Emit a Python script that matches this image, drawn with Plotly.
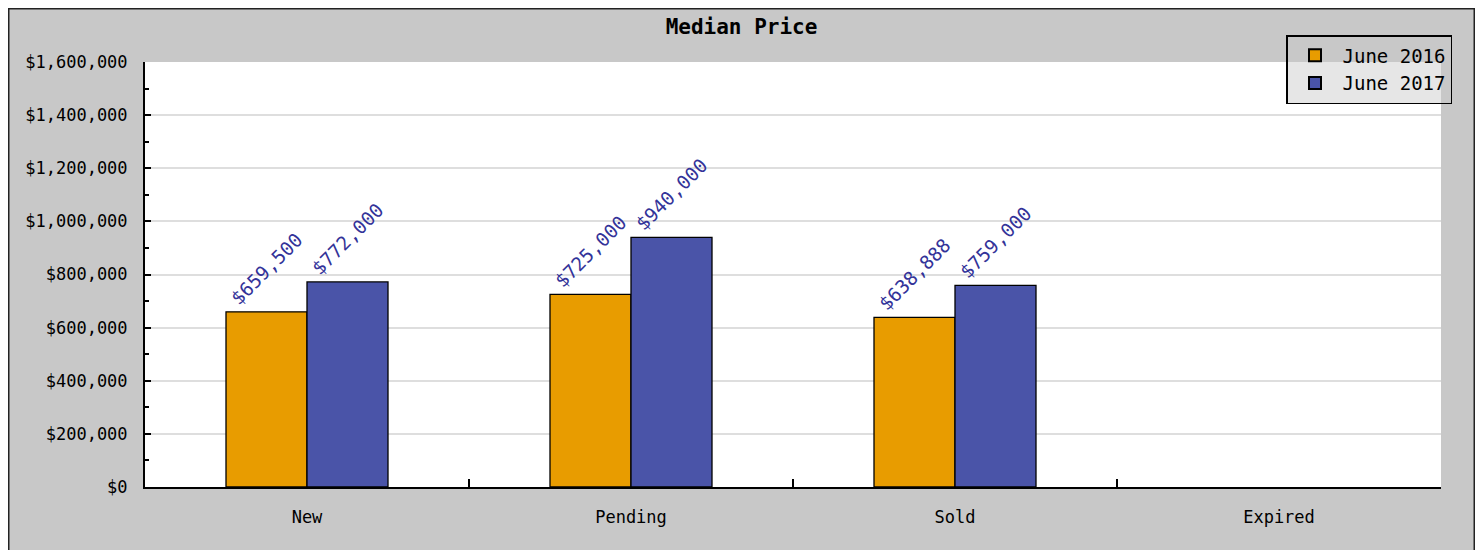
import plotly.graph_objects as go

categories = ["New", "Pending", "Sold", "Expired"]
series_names = ["June 2016", "June 2017"]
june_2016 = [659500, 725000, 638888, None]
june_2017 = [772000, 940000, 759000, None]
series_colors = ["#E89C00", "#4A54A8"]
label_color = "#333399"
FONT = "DejaVu Sans Mono"

# figure geometry (px)
W, H = 1467, 542
ML, MT, MR, MB = 137, 54, 34, 63
PW, PH = W - ML - MR, H - MT - MB


def px_x(px):
    return (px - ML) / PW


def px_y(py):
    return (H - MB - py) / PH


def fmt(v):
    return "" if v is None else "${:,}".format(v)


fig = go.Figure()
for name, vals, col in zip(series_names, [june_2016, june_2017], series_colors):
    fig.add_trace(go.Bar(
        name=name, x=categories, y=vals,
        marker=dict(color=col, line=dict(color="black", width=1.3)),
        text=[fmt(v) for v in vals], textposition="outside", textangle=-45,
        textfont=dict(family=FONT, size=19, color=label_color),
        constraintext="none", cliponaxis=False,
    ))

fig.update_layout(
    width=W, height=H,
    margin=dict(l=ML, r=MR, t=MT, b=MB, pad=0),
    paper_bgcolor="#c8c8c8", plot_bgcolor="white",
    barmode="group", bargap=0.5, bargroupgap=0,
    font=dict(family=FONT, size=17, color="black"),
    title=dict(text="<b>Median Price</b>", x=0.5, xanchor="center",
               y=1 - 19 / H, yanchor="middle",
               font=dict(family=FONT, size=21, color="black")),
    legend=dict(x=px_x(1444), xanchor="right", y=px_y(27), yanchor="top",
                bgcolor="rgba(200,200,200,0.45)", bordercolor="black", borderwidth=1.5,
                font=dict(family=FONT, size=19, color="black"),
                tracegroupgap=4, itemwidth=45, itemsizing="constant"),
    showlegend=True,
    xaxis=dict(type="category", showline=True, linecolor="black", linewidth=2,
               ticks="inside", tickson="boundaries", ticklen=8, tickwidth=1.5,
               tickcolor="black", showgrid=False, ticklabelstandoff=14,
               tickfont=dict(family=FONT, size=17, color="black")),
    yaxis=dict(range=[0, 1600000], dtick=200000, tickprefix="$", tickformat=",d",
               showline=True, linecolor="black", linewidth=2,
               ticks="inside", ticklen=6, tickwidth=1.5, tickcolor="black",
               showgrid=True, gridcolor="#dedede", gridwidth=1.5, zeroline=False,
               minor=dict(dtick=100000, ticks="inside", ticklen=4, tickcolor="black",
                          showgrid=False),
               ticklabelstandoff=12,
               tickfont=dict(family=FONT, size=17, color="black")),
    shapes=[dict(type="rect", xref="paper", yref="paper",
                 x0=px_x(0.5), x1=px_x(W - 0.5), y0=px_y(H + 10), y1=px_y(0.5),
                 line=dict(color="#222222", width=2), fillcolor="rgba(0,0,0,0)",
                 layer="above")],
)

fig.write_html("out.html")
